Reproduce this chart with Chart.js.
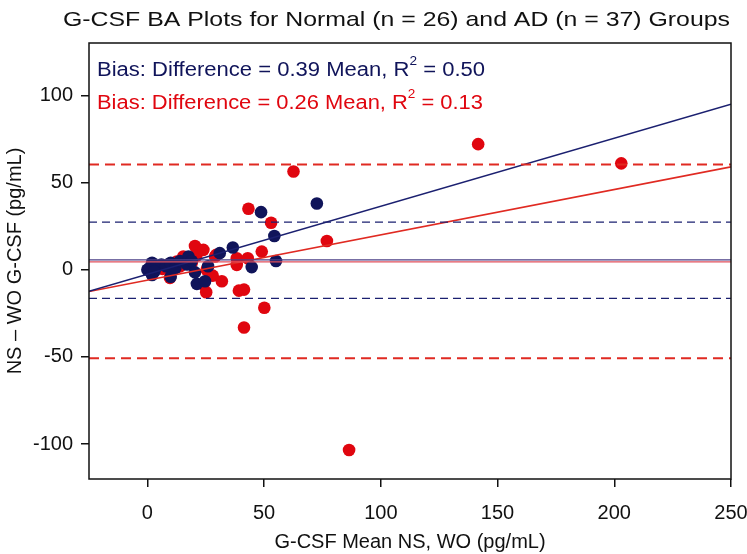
<!DOCTYPE html>
<html lang="en">
<head>
<meta charset="UTF-8">
<title>G-CSF BA Plots</title>
<script src="https://cdn.jsdelivr.net/npm/chart.js@4.4.1/dist/chart.umd.min.js"></script>
<style>
body {
margin: 0;
padding: 0;
background-color: white;
}
#wrap {
width: 747px;
height: 554px;
}
</style>
</head>
<body>
<div id="wrap">
<canvas id="baChart" width="747" height="554"></canvas>
</div>
<script>
// axis setup
const xMin = -25, xMax = 250;
const yMin = -120, yMax = 130;
const xTicks = [0, 50, 100, 150, 200, 250];
const yTicks = [-100, -50, 0, 50, 100];

// Normal group (n = 26): mean of NS and WO vs difference
const normalMean = [0, 1, 2, 2, 4, 6, 8, 10, 10, 12, 14, 17, 17.6, 19, 20.4, 21.2, 24.7, 26, 31, 36.6, 44.7, 48.7, 54.4, 55.1, 72.6, 3];
const normalDiff = [0, 1, 4, -3, 2, 3, 2, 4, -4, 1, 5, 3, 7.6, 5, -1.5, -8.1, -6.6, 2, 9.5, 12.7, 1.5, 33, 19.3, 5, 38, -1];

// AD group (n = 37)
const adMean = [5.4, 6.5, 7.6, 9, 9.7, 11.5, 12.6, 14, 15.4, 17, 18, 19, 20.4, 21, 24, 25.4, 28, 31.9, 24, 25.2, 29, 29.5, 38.3, 38.3, 43, 49, 39.2, 41.4, 50.1, 41.4, 43.3, 53, 76.9, 62.6, 86.4, 141.7, 203];
const adDiff = [1.9, 0.5, 1.5, 2.8, -4.7, 3, 4.7, 1.9, 7.6, 5, 6.5, 3.8, 13.6, 8, 11.4, 0, -3.4, -6.6, -8.5, -12.9, 7.6, 8.5, 2.8, 6.6, 6.6, 10.4, -12, -11.4, -21.8, -33.1, 35, 26.9, 16.5, 56.3, -103.4, 72, 61];

// regression fits and limits of agreement
const normalFit = { slope: 0.39, intercept: -2.6 };
const adFit = { slope: 0.26, intercept: -6 };
const normalBias = 5.7, normalLimits = [-16.4, 27.3];
const adBias = 4.5, adLimits = [-50.7, 60.4];

const navy = '#10145a';
const navyLine = '#1b2070';
const red = '#e0060f';
const redLine = '#e02a22';
const fontFamily = "'Liberation Sans', Arial, sans-serif";

function toPoints(xs, ys) {
return xs.map((x, i) => ({ x: x, y: ys[i] }));
}
function fitLine(fit) {
return [xMin, xMax].map(x => ({ x: x, y: fit.slope * x + fit.intercept }));
}
function flatLine(y) {
return [{ x: xMin, y: y }, { x: xMax, y: y }];
}
function lineSet(data, color, width, dash) {
return {
data: data,
showLine: true,
borderColor: color,
borderWidth: width,
borderDash: dash || [],
pointRadius: 0,
pointHoverRadius: 0,
fill: false
};
}

// draws box frame, title and the bias annotations
const decorations = {
id: 'decorations',
afterDraw(chart) {
const ctx = chart.ctx;
const a = chart.chartArea;
ctx.save();
ctx.strokeStyle = '#111';
ctx.lineWidth = 1.5;
ctx.strokeRect(a.left, a.top, a.right - a.left, a.bottom - a.top);

// text helper that fits string to a given width
function fitText(parts, x, y, width, size) {
let total = 0;
parts.forEach(p => {
ctx.font = (p.sup ? size * 0.62 : size) + 'px ' + fontFamily;
total += ctx.measureText(p.t).width;
});
const sx = width / total;
ctx.save();
ctx.translate(x, y);
ctx.scale(sx, 1);
let cx = 0;
parts.forEach(p => {
ctx.font = (p.sup ? size * 0.62 : size) + 'px ' + fontFamily;
ctx.fillStyle = p.c;
ctx.textBaseline = 'middle';
ctx.fillText(p.t, cx, p.sup ? -size * 0.42 : 0);
cx += ctx.measureText(p.t).width;
});
ctx.restore();
}

fitText([{ t: 'G-CSF BA Plots for Normal (n = 26) and AD (n = 37) Groups', c: '#111' }], 63, 20, 667, 21);
fitText([
{ t: 'Bias: Difference = 0.39 Mean, R', c: navy },
{ t: '2', c: navy, sup: true },
{ t: ' = 0.50', c: navy }
], 97, 70, 388, 20);
fitText([
{ t: 'Bias: Difference = 0.26 Mean, R', c: red },
{ t: '2', c: red, sup: true },
{ t: ' = 0.13', c: red }
], 97, 103, 386, 20);
ctx.restore();
}
};

const ctx = document.getElementById('baChart').getContext('2d');
new Chart(ctx, {
type: 'scatter',
data: {
datasets: [
lineSet(flatLine(adLimits[1]), redLine, 2, [10, 6]),
lineSet(flatLine(adLimits[0]), redLine, 2, [10, 6]),
lineSet(flatLine(normalLimits[1]), navyLine, 1.3, [8, 5]),
lineSet(flatLine(normalLimits[0]), navyLine, 1.3, [8, 5]),
lineSet(flatLine(normalBias), '#4a3f86', 1.2),
lineSet(flatLine(adBias), '#e0505e', 1.2),
lineSet(fitLine(normalFit), navyLine, 1.6),
lineSet(fitLine(adFit), redLine, 1.6),
{
label: 'Normal',
data: toPoints(normalMean, normalDiff),
backgroundColor: navy,
borderColor: navy,
pointRadius: 6.3,
borderWidth: 0
},
{
label: 'AD',
data: toPoints(adMean, adDiff),
backgroundColor: red,
borderColor: red,
pointRadius: 6.3,
borderWidth: 0
}
]
},
options: {
responsive: false,
animation: false,
layout: { padding: { top: 43, right: 16, left: 0, bottom: 0 } },
plugins: {
legend: { display: false },
tooltip: { enabled: false }
},
scales: {
x: {
type: 'linear',
min: xMin,
max: xMax,
afterBuildTicks: s => { s.ticks = xTicks.map(v => ({ value: v })); },
afterFit: s => { s.height = 75; s.paddingLeft = 0; s.paddingRight = 0; },
border: { display: false },
grid: { drawOnChartArea: false, drawTicks: true, tickLength: 8, color: '#111', lineWidth: 1.5 },
ticks: { color: '#111', padding: 14, font: { family: fontFamily, size: 20 } },
title: {
display: true,
text: 'G-CSF Mean NS, WO (pg/mL)',
color: '#111',
padding: { top: 0, bottom: 0 },
font: { family: fontFamily, size: 20 }
}
},
y: {
type: 'linear',
min: yMin,
max: yMax,
afterBuildTicks: s => { s.ticks = yTicks.map(v => ({ value: v })); },
afterFit: s => { s.width = 89; s.paddingTop = 0; s.paddingBottom = 0; },
border: { display: false },
grid: { drawOnChartArea: false, drawTicks: true, tickLength: 8, color: '#111', lineWidth: 1.5 },
ticks: { color: '#111', padding: 8, font: { family: fontFamily, size: 20 } },
title: {
display: true,
text: 'NS \u2013 WO G-CSF (pg/mL)',
color: '#111',
padding: { top: 3, bottom: 0 },
font: { family: fontFamily, size: 20 }
}
}
}
},
plugins: [decorations]
});
</script>
</body>
</html>
